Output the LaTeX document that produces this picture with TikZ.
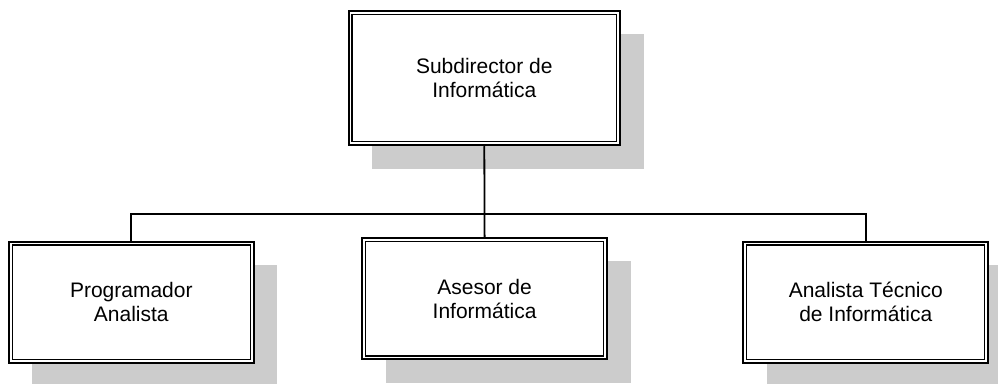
\documentclass[tikz,border=0pt]{standalone}
\usepackage{fontspec}
\setmainfont{Liberation Sans}
\usetikzlibrary{shadows}
\tikzset{
  orgbox/.style={draw, line width=2pt, fill=white, align=center,
    font=\fontsize{21}{24}\selectfont,
    drop shadow={shadow xshift=23.5pt, shadow yshift=-23.5pt, fill=black!20, opacity=1}},
  topbox/.style={orgbox, minimum width=271.5pt, minimum height=134.5pt},
  subbox/.style={orgbox, minimum width=245pt, minimum height=121.5pt},
  innerline/.style={draw, line width=1.3pt},
  conn/.style={draw, line width=1.8pt}
}
\begin{document}
\begin{tikzpicture}[x=1pt,y=1pt]
\path[use as bounding box, fill=white] (0,0) rectangle (998,383);
\node[topbox] (top) at (484.3,305) {Subdirector de\\Inform\'atica};
\node[subbox] (left) at (131.3,80.7) {Programador\\Analista};
\node[subbox] (mid) at (484.6,84.3) {Asesor de\\Inform\'atica};
\node[subbox] (right) at (865.8,80.7) {Analista T\'ecnico\\de Inform\'atica};
\foreach \n in {top,left,mid,right}
  \draw[innerline] ([shift={(4.5pt,-4.5pt)}]\n.north west) rectangle ([shift={(-4.5pt,4.5pt)}]\n.south east);
\coordinate (bus) at (0,169);
\draw[conn] (top.south) -- (mid.north);
\draw[conn] (left.north) -- (left.north |- bus) -- (right.north |- bus) -- (right.north);
\end{tikzpicture}
\end{document}
